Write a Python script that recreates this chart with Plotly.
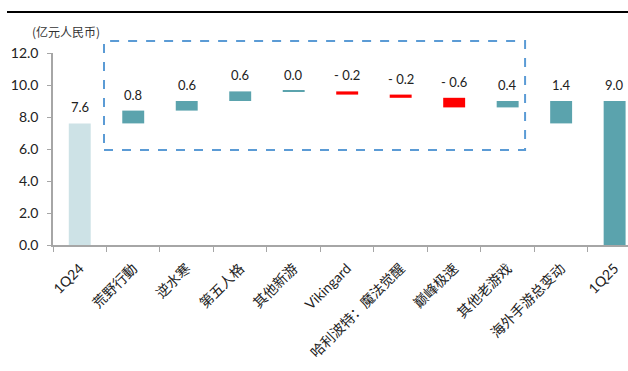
import plotly.graph_objects as go

categories = ["1Q24", "荒野行動", "逆水寒", "第五人格", "其他新游", "Vikingard",
              "哈利波特：魔法觉醒", "巅峰极速", "其他老游戏", "海外手游总变动", "1Q25"]
values = [7.6, 0.8, 0.6, 0.6, 0.0, -0.2, -0.2, -0.6, 0.4, 1.4, 9.0]
kinds = ["total", "delta", "delta", "delta", "delta", "delta", "delta", "delta", "delta", "overall", "total"]
labels = ["7.6", "0.8", "0.6", "0.6", "0.0", "- 0.2", "- 0.2", "- 0.6", "0.4", "1.4", "9.0"]

TEAL = "#5BA3AD"
LIGHT = "#CDE2E6"
RED = "#FF0000"

bases, heights, colors, tops = [], [], [], []
level = 0.0
start_level = values[0]
for i, (v, k) in enumerate(zip(values, kinds)):
    if k == "total":
        b, h = 0.0, v
        level = v
        colors.append(LIGHT if i == 0 else TEAL)
    elif k == "overall":
        b, h = start_level, v
        colors.append(TEAL)
    else:
        b, h = level, v
        level = level + v
        colors.append(RED if v < 0 else TEAL)
    if h == 0:
        h = 0.05  # draw a hairline for a zero change
    bases.append(b)
    heights.append(h)
    tops.append(max(b, b + h))

fig = go.Figure()
fig.add_trace(go.Bar(
    x=categories, y=heights, base=bases,
    marker=dict(color=colors, line=dict(width=0)),
    width=0.41, hoverinfo="skip",
))

for c, t, lab in zip(categories, tops, labels):
    fig.add_annotation(x=c, y=t, text=lab, showarrow=False, yanchor="bottom",
                       yshift=6, font=dict(size=13, color="#222222", family="Lato, Noto Sans CJK SC"))

# unit label
fig.add_annotation(xref="paper", yref="paper", x=-0.04, y=1.11, xanchor="left", yanchor="middle",
                   text="(亿元人民币)", showarrow=False,
                   font=dict(size=12, color="#333333", family="Noto Sans CJK SC"))

# dashed highlight box
fig.add_shape(type="rect", xref="paper", yref="paper", x0=0.0887, x1=0.821, y0=0.495, y1=1.0625,
              line=dict(color="#5B9BD5", width=2, dash="dash"), fillcolor="rgba(0,0,0,0)")
# top rule
fig.add_shape(type="line", xref="paper", yref="paper", x0=-0.08, x1=1.0, y0=1.2135, y1=1.2135,
              line=dict(color="#000000", width=2))

fig.update_layout(
    width=628, height=371,
    margin=dict(l=53, r=0, t=53, b=126),
    paper_bgcolor="white", plot_bgcolor="white",
    showlegend=False,
    font=dict(family="Lato, Noto Sans CJK SC", color="#222222"),
)
fig.update_xaxes(
    type="category", range=[-0.5, 10.25],
    showline=True, linecolor="#A6A6A6", linewidth=1.5,
    ticks="outside", tickson="boundaries", ticklen=5, tickcolor="#A6A6A6",
    tickangle=-45, ticklabelstandoff=8,
    tickfont=dict(size=14, family="Lato, Noto Sans CJK SC", color="#222222"),
    showgrid=False,
)
fig.update_yaxes(
    range=[0, 12], dtick=2, tickformat=".1f",
    showline=True, linecolor="#A6A6A6", linewidth=1.5,
    ticks="outside", ticklen=4, tickcolor="#A6A6A6", ticklabelstandoff=6,
    tickfont=dict(size=14, family="Lato", color="#222222"),
    showgrid=False, zeroline=False,
)

fig.write_html("out.html")
